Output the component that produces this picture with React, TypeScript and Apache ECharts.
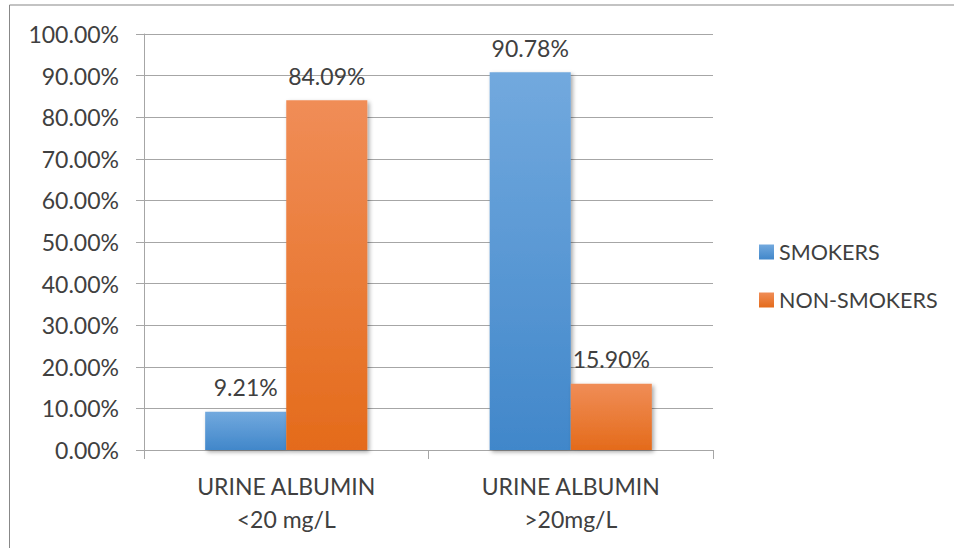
import React, { useEffect, useRef } from "react";
import * as echarts from "echarts";

const categories = ["URINE ALBUMIN\n<20 mg/L", "URINE ALBUMIN\n>20mg/L"];
const smokers = [9.21, 90.78];
const nonSmokers = [84.09, 15.9];
const seriesNames = ["SMOKERS", "NON-SMOKERS"];

const FONT = "Lato";
const TEXT = "#404040";
const FS = 23;

const blue = new echarts.graphic.LinearGradient(0, 0, 0, 1, [
  { offset: 0, color: "#72a9de" },
  { offset: 1, color: "#4187ca" },
]);
const orange = new echarts.graphic.LinearGradient(0, 0, 0, 1, [
  { offset: 0, color: "#f08d57" },
  { offset: 1, color: "#e46b1b" },
]);

export default function App() {
  const ref = useRef<HTMLDivElement>(null);
  useEffect(() => {
    const chart = echarts.init(ref.current!, undefined, { renderer: "svg" });
    const label = {
      show: true,
      position: "top",
      distance: 13,
      color: TEXT,
      fontSize: FS,
      fontFamily: FONT,
      formatter: (p: any) => `${p.value.toFixed(2)}%`,
    };
    const shadow = {
      shadowBlur: 4,
      shadowColor: "rgba(0,0,0,0.35)",
      shadowOffsetX: 2,
      shadowOffsetY: 2,
    };
    chart.setOption({
      animation: false,
      backgroundColor: "#ffffff",
      graphic: [
        {
          type: "line",
          shape: { x1: 9.5, y1: 5, x2: 954, y2: 5 },
          style: { stroke: "#888888", lineWidth: 1.2 },
          silent: true,
          z: 100,
        },
        {
          type: "line",
          shape: { x1: 9.5, y1: 5, x2: 9.5, y2: 548 },
          style: { stroke: "#888888", lineWidth: 1 },
          silent: true,
          z: 100,
        },
      ],
      grid: { left: 144, top: 34, right: 241, bottom: 98 },
      legend: {
        orient: "vertical",
        left: 754,
        top: 236,
        itemWidth: 15,
        itemHeight: 15,
        itemGap: 26,
        icon: "rect",
        textStyle: { color: TEXT, fontSize: 21.5, fontFamily: FONT },
        data: seriesNames,
      },
      xAxis: {
        type: "category",
        data: categories,
        axisLine: { show: true, lineStyle: { color: "#a6a6a6", width: 1 } },
        axisTick: { show: true, length: 9, lineStyle: { color: "#a6a6a6" } },
        axisLabel: {
          color: TEXT,
          fontSize: FS,
          fontFamily: FONT,
          lineHeight: 33,
          margin: 19,
        },
      },
      yAxis: {
        type: "value",
        min: 0,
        max: 100,
        interval: 10,
        axisLine: { show: true, lineStyle: { color: "#a6a6a6", width: 1 } },
        axisTick: { show: true, length: 8, lineStyle: { color: "#a6a6a6" } },
        splitLine: { show: true, lineStyle: { color: "#a6a6a6", width: 1 } },
        axisLabel: {
          color: TEXT,
          fontSize: FS,
          fontFamily: FONT,
          margin: 25,
          formatter: (v: number) => `${v.toFixed(2)}%`,
        },
      },
      series: [
        {
          name: seriesNames[0],
          type: "bar",
          data: smokers,
          barGap: "0%",
          barCategoryGap: "43%",
          itemStyle: { color: blue, ...shadow },
          label,
        },
        {
          name: seriesNames[1],
          type: "bar",
          data: nonSmokers,
          barGap: "0%",
          barCategoryGap: "43%",
          itemStyle: { color: orange, ...shadow },
          label,
        },
      ],
    });
    return () => chart.dispose();
  }, []);
  return (
    <div
      ref={ref}
      style={{ position: "absolute", left: 0, top: 0, width: 954, height: 548 }}
    />
  );
}
